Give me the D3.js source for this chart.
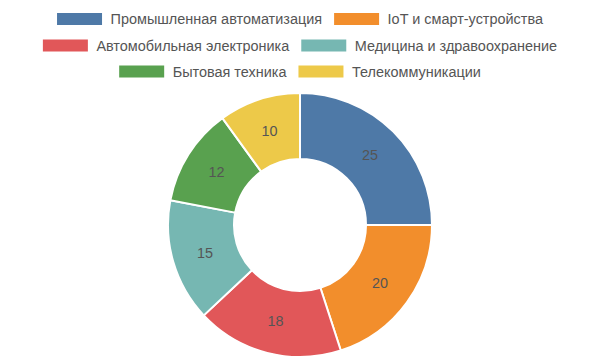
<!DOCTYPE html>
<html><head><meta charset="utf-8">
<script src="https://cdn.jsdelivr.net/npm/d3@7"></script>
<style>body{margin:0;background:#fff;} svg{display:block;}</style>
</head><body>
<svg id="c" width="600" height="360"></svg>
<script>
const categories = ["Промышленная автоматизация","IoT и смарт-устройства","Автомобильная электроника","Медицина и здравоохранение","Бытовая техника","Телекоммуникации"];
const values = [25,20,18,15,12,10];
const colors = ["#4e79a7","#f28e2c","#e15759","#76b7b2","#59a14f","#edc949"];
const legendRows = [[0,1],[2,3],[4,5]];

const svg = d3.select("#c");
const font = "Liberation Sans, Arial, sans-serif";
const cx = 300, cy = 225, rOuter = 132, rInner = 66;

const data = categories.map((c,i)=>({name:c, value:values[i], color:colors[i]}));
const pie = d3.pie().sort(null).value(d=>d.value);
const arc = d3.arc().innerRadius(rInner).outerRadius(rOuter);
const g = svg.append("g").attr("transform",`translate(${cx},${cy})`);
const arcs = pie(data);
g.selectAll("path").data(arcs).join("path")
  .attr("d",arc).attr("fill",d=>d.data.color)
  .attr("stroke","#fff").attr("stroke-width",2).attr("stroke-linejoin","round");
g.selectAll("text").data(arcs).join("text")
  .attr("transform",d=>`translate(${arc.centroid(d)})`)
  .attr("text-anchor","middle").attr("dy","0.35em")
  .attr("font-family",font).attr("font-size",14.4).attr("fill","#555")
  .text(d=>d.data.value);

// legend
const sw = 45, sh = 12, tg = 8.5, ig = 12, fs = 14.45;
const rowY = [19, 45.5, 71.5];
const lg = svg.append("g");
legendRows.forEach((row,ri)=>{
  const items = row.map(i=>{
    const t = lg.append("text").attr("font-family",font).attr("font-size",fs).attr("fill","#555")
      .attr("dy","0.35em").attr("y",rowY[ri]).text(categories[i]);
    const w = t.node().getComputedTextLength();
    return {i,t,w};
  });
  const total = items.reduce((s,it)=>s+sw+tg+it.w,0) + ig*(items.length-1);
  let x = 300 - total/2;
  items.forEach(it=>{
    lg.append("rect").attr("x",x).attr("y",rowY[ri]-sh/2).attr("width",sw).attr("height",sh)
      .attr("fill",colors[it.i]);
    it.t.attr("x",x+sw+tg);
    x += sw+tg+it.w+ig;
  });
});
</script>
</body></html>
